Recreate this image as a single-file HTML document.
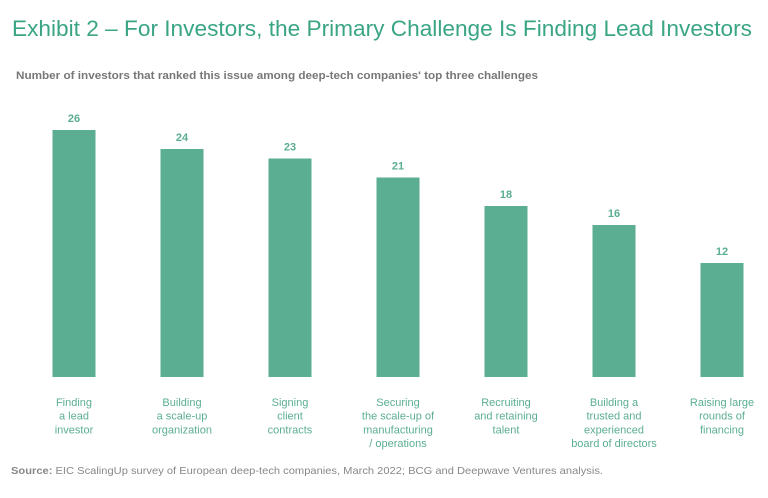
<!DOCTYPE html>
<html><head><meta charset="utf-8"><style>
body{margin:0;background:#fff;width:768px;height:498px;overflow:hidden;font-family:"Liberation Sans",sans-serif;}
svg{display:block}
</style></head><body>
<svg id="chart" width="768" height="498">
<text x="12" y="36" font-size="22.5" fill="#3aa584" textLength="740" lengthAdjust="spacingAndGlyphs">Exhibit 2 – For Investors, the Primary Challenge Is Finding Lead Investors</text>
<text x="16" y="79" font-size="11" font-weight="bold" fill="#777" textLength="522" lengthAdjust="spacingAndGlyphs">Number of investors that ranked this issue among deep-tech companies' top three challenges</text>
<text x="11" y="474" font-size="10.5" fill="#888" textLength="592" lengthAdjust="spacingAndGlyphs"><tspan font-weight="bold">Source:</tspan> EIC ScalingUp survey of European deep-tech companies, March 2022; BCG and Deepwave Ventures analysis.</text>
<g id="bars"></g>
</svg>
<script>
const categories=[["Finding","a lead","investor"],["Building","a scale-up","organization"],["Signing","client","contracts"],["Securing","the scale-up of","manufacturing","/ operations"],["Recruiting","and retaining","talent"],["Building a","trusted and","experienced","board of directors"],["Raising large","rounds of","financing"]];
const values=[26,24,23,21,18,16,12];
const valueLabels=["26","24","23","21","18","16","12"];
const base=377, scale=9.5, x0=74, step=108, bw=43;
const ns="http://www.w3.org/2000/svg";
const g=document.getElementById('bars');
function xPos(i){return x0+i*step;}
function yPos(v){return base-v*scale;}
values.forEach((v,i)=>{
  const r=document.createElementNS(ns,'rect');
  r.setAttribute('x',xPos(i)-bw/2);r.setAttribute('y',yPos(v));
  r.setAttribute('width',bw);r.setAttribute('height',base-yPos(v));
  r.setAttribute('fill','#5bae92');
  
  
  g.appendChild(r);
  const t=document.createElementNS(ns,'text');
  t.setAttribute('x',xPos(i));t.setAttribute('y',yPos(v)-8);
  t.setAttribute('text-anchor','middle');t.setAttribute('font-size','11');
  t.setAttribute('font-weight','bold');t.setAttribute('fill','#5bae92');
  t.textContent=valueLabels[i];
  
  
  g.appendChild(t);
  const c=document.createElementNS(ns,'text');
  c.setAttribute('text-anchor','middle');c.setAttribute('font-size','11');c.setAttribute('fill','#5bae92');
  
  
  categories[i].forEach((line,j)=>{
    const s=document.createElementNS(ns,'tspan');
    s.setAttribute('x',xPos(i));s.setAttribute('y',406+j*13.7);
    s.textContent=line;c.appendChild(s);
  });
  g.appendChild(c);
});
</script>
</body></html>
